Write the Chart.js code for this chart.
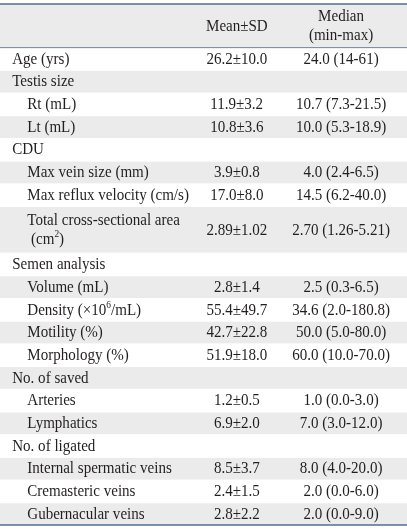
<!DOCTYPE html>
<html lang="en">
<head>
<meta charset="UTF-8">
<title>Table</title>
<script src="https://cdn.jsdelivr.net/npm/chart.js"></script>
<style>
body {margin:0; background:#fff}
#wrap {position:relative; width:407px; height:529px}
</style>
</head>
<body>
<div id="wrap"><canvas id="tableChart"></canvas></div>
<script>
// table content
const headerCols = ['', 'Mean±SD', 'Median|(min-max)'];
const headerLines = 1.9;

const rowLabels = ['Age (yrs)', 'Testis size', 'Rt (mL)', 'Lt (mL)', 'CDU',
  'Max vein size (mm)', 'Max reflux velocity (cm/s)', 'Total cross-sectional area| (cm^2)',
  'Semen analysis', 'Volume (mL)', 'Density (×10^6/mL)', 'Motility (%)', 'Morphology (%)',
  'No. of saved', 'Arteries', 'Lymphatics', 'No. of ligated',
  'Internal spermatic veins', 'Cremasteric veins', 'Gubernacular veins'];
const rowIndent = [0, 0, 1, 1, 0, 1, 1, 1, 0, 1, 1, 1, 1, 0, 1, 1, 0, 1, 1, 1];
const rowLines = [1, 1, 1, 1, 1, 1, 1, 2.05, 1, 1, 1, 1, 1, 1, 1, 1, 1, 1, 1, 1];
const meanSD = ['26.2±10.0', '', '11.9±3.2', '10.8±3.6', '', '3.9±0.8', '17.0±8.0', '2.89±1.02',
  '', '2.8±1.4', '55.4±49.7', '42.7±22.8', '51.9±18.0', '', '1.2±0.5', '6.9±2.0', '',
  '8.5±3.7', '2.4±1.5', '2.8±2.2'];
const medianRange = ['24.0 (14-61)', '', '10.7 (7.3-21.5)', '10.0 (5.3-18.9)', '', '4.0 (2.4-6.5)',
  '14.5 (6.2-40.0)', '2.70 (1.26-5.21)', '', '2.5 (0.3-6.5)', '34.6 (2.0-180.8)',
  '50.0 (5.0-80.0)', '60.0 (10.0-70.0)', '', '1.0 (0.0-3.0)', '7.0 (3.0-12.0)', '',
  '8.0 (4.0-20.0)', '2.0 (0.0-6.0)', '2.0 (0.0-9.0)'];

const totalLines = headerLines + rowLines.reduce((a, b) => a + b, 0);

// column positions on the x scale (0-100)
const colLabelX = 3.0;
const colIndentX = 6.7;
const colMeanX = 58.2;
const colMedianX = 83.8;

const FONT = '16px "Liberation Serif", "Times New Roman", serif';
const SUPFONT = '10px "Liberation Serif", "Times New Roman", serif';
const SX = 0.94; // the print face is a little narrower than Times
const TEXT = '#231f20';
const SHADE = '#ebebeb';
const RULE = '#4f7191';

// text with ^x superscripts
function richWidth(ctx, s) {
  var w = 0;
  for (var i = 0; i < s.length; i++) {
    if (s[i] === '^') { ctx.font = SUPFONT; w += ctx.measureText(s[i + 1]).width; i++; }
    else { ctx.font = FONT; w += ctx.measureText(s[i]).width; }
  }
  return w * SX;
}
function putText(ctx, t, x, y) {
  ctx.save();
  ctx.translate(x, y);
  ctx.scale(SX, 1);
  ctx.fillText(t, 0, 0);
  ctx.restore();
  return ctx.measureText(t).width * SX;
}
function drawRich(ctx, s, x, y, align) {
  var w = richWidth(ctx, s);
  var cx = align === 'center' ? x - w / 2 : x;
  ctx.textAlign = 'left';
  ctx.textBaseline = 'middle';
  var buf = '';
  function flush() {
    if (!buf) return;
    ctx.font = FONT;
    cx += putText(ctx, buf, cx, y);
    buf = '';
  }
  for (var i = 0; i < s.length; i++) {
    if (s[i] === '^') {
      flush();
      ctx.font = SUPFONT;
      cx += putText(ctx, s[i + 1], cx, y - 5);
      i++;
    } else buf += s[i];
  }
  flush();
}
function drawCell(ctx, s, x, yTop, yBot, align) {
  if (!s) return;
  var parts = s.split('|');
  var lh = 19;
  var mid = (yTop + yBot) / 2 + 1;
  var start = mid - (parts.length - 1) * lh / 2;
  parts.forEach(function (p, k) { drawRich(ctx, p, x, start + k * lh, align); });
}

const tablePlugin = {
  id: 'tablePlugin',
  afterDraw(chart) {
    const ctx = chart.ctx;
    const xs = chart.scales.x, ys = chart.scales.y;
    const left = chart.chartArea.left, right = chart.chartArea.right;
    ctx.save();

    // header
    var hTop = ys.getPixelForValue(0), hBot = ys.getPixelForValue(headerLines);
    ctx.fillStyle = SHADE;
    ctx.fillRect(left, hTop, right - left, hBot - hTop);
    ctx.fillStyle = TEXT;
    drawCell(ctx, headerCols[1], xs.getPixelForValue(colMeanX), hTop, hBot, 'center');
    drawCell(ctx, headerCols[2], xs.getPixelForValue(colMedianX), hTop, hBot, 'center');

    // body rows
    var u = headerLines;
    rowLabels.forEach(function (lab, i) {
      var top = ys.getPixelForValue(u), bot = ys.getPixelForValue(u + rowLines[i]);
      if (i % 2 === 1) {
        ctx.fillStyle = SHADE;
        ctx.fillRect(left, top + 1, right - left, bot - top - 1);
      }
      ctx.fillStyle = TEXT;
      var lx = xs.getPixelForValue(rowIndent[i] ? colIndentX : colLabelX);
      drawCell(ctx, lab, lx, top, bot, 'left');
      drawCell(ctx, meanSD[i], xs.getPixelForValue(colMeanX), top, bot, 'center');
      drawCell(ctx, medianRange[i], xs.getPixelForValue(colMedianX), top, bot, 'center');
      u += rowLines[i];
    });

    // rules
    ctx.strokeStyle = RULE;
    ctx.lineWidth = 1.5;
    [0, totalLines].forEach(function (v) {
      var y = ys.getPixelForValue(v);
      ctx.beginPath(); ctx.moveTo(left, y); ctx.lineTo(right, y); ctx.stroke();
    });
    ctx.lineWidth = 1;
    ctx.strokeStyle = '#6f8296';
    ctx.beginPath(); ctx.moveTo(left, hBot + 0.5); ctx.lineTo(right, hBot + 0.5); ctx.stroke();
    ctx.restore();
  }
};

new Chart(document.getElementById('tableChart'), {
  type: 'scatter',
  data: { datasets: [] },
  options: {
    responsive: true,
    maintainAspectRatio: false,
    animation: false,
    layout: { padding: { top: 4, bottom: 4, left: 0, right: 0 } },
    plugins: { legend: { display: false }, tooltip: { enabled: false } },
    scales: {
      x: { type: 'linear', min: 0, max: 100, display: false },
      y: { type: 'linear', min: 0, max: totalLines, reverse: true, display: false }
    }
  },
  plugins: [tablePlugin]
});
</script>
</body>
</html>
